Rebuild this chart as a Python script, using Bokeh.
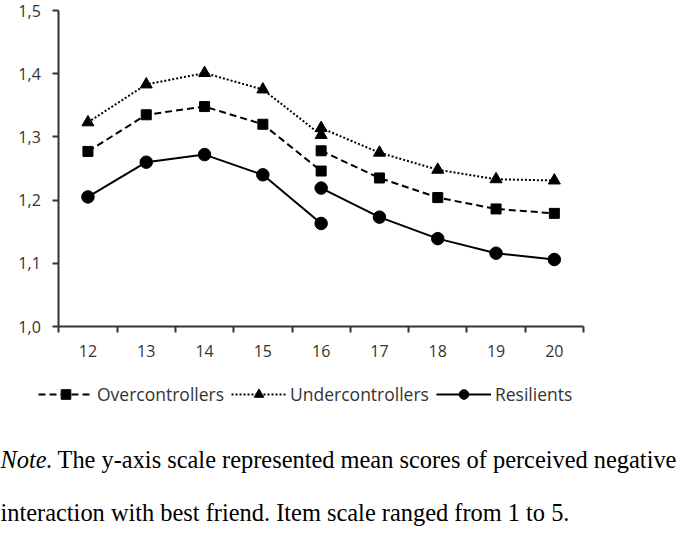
from bokeh.plotting import figure
from bokeh.models import (FixedTicker, CustomJSTickFormatter, Legend, LegendItem,
                          Label, Range1d, LinearAxis)
from bokeh.embed import file_html
from bokeh.resources import INLINE

# ---------------- data ----------------
ages = [12, 13, 14, 15, 16, 17, 18, 19, 20]
ages_pre = [12, 13, 14, 15, 16]
ages_post = [16, 17, 18, 19, 20]

over_pre = [1.277, 1.335, 1.348, 1.320, 1.246]
over_post = [1.278, 1.235, 1.204, 1.186, 1.179]

under_pre = [1.323, 1.383, 1.401, 1.375, 1.303]
under_post = [1.314, 1.275, 1.248, 1.233, 1.231]

resil_pre = [1.205, 1.260, 1.272, 1.240, 1.163]
resil_post = [1.219, 1.173, 1.139, 1.116, 1.106]

y_ticks = [1.0, 1.1, 1.2, 1.3, 1.4, 1.5]
series_names = ["Overcontrollers", "Undercontrollers", "Resilients"]

note_italic = "Note."
note_line1 = "The y-axis scale represented mean scores of perceived negative"
note_line2 = "interaction with best friend. Item scale ranged from 1 to 5."

# ---------------- layout constants (pixels) ----------------
W, H = 678, 558
PLOT_LEFT, PLOT_RIGHT = 58.3, 583.0      # x of axis start / end
PLOT_TOP, PLOT_BOTTOM = 10.0, 326.0      # y of 1.5 / 1.0
AX = "#333333"
TICK_FONT = "Open Sans"

x_lo, x_hi = ages[0] - 0.5, ages[-1] + 0.5
y_lo, y_hi = y_ticks[0], y_ticks[-1]
px_x = (PLOT_RIGHT - PLOT_LEFT) / (x_hi - x_lo)
px_y = (PLOT_BOTTOM - PLOT_TOP) / (y_hi - y_lo)
x_range = Range1d(x_lo - PLOT_LEFT / px_x, x_hi + (W - PLOT_RIGHT) / px_x)
y_range = Range1d(y_lo - (H - PLOT_BOTTOM) / px_y, y_hi + PLOT_TOP / px_y)

p = figure(width=W, height=H, x_range=x_range, y_range=y_range,
           x_axis_location=None, y_axis_location=None,
           output_backend="svg", toolbar_location=None, min_border=0)
p.outline_line_color = None
p.grid.visible = False
p.background_fill_color = "white"
p.border_fill_color = "white"

# x axis: labels at categories, tick marks at category boundaries
boundaries = [a - 0.5 for a in ages] + [ages[-1] + 0.5]
xaxis = LinearAxis(fixed_location=y_lo, bounds=(x_lo, x_hi),
                   ticker=FixedTicker(ticks=ages, minor_ticks=boundaries),
                   major_tick_out=0, major_tick_in=0,
                   minor_tick_out=6, minor_tick_in=0,
                   minor_tick_line_color=AX, minor_tick_line_width=2,
                   axis_line_color=AX, axis_line_width=2,
                   major_label_standoff=12,
                   major_label_text_font=TICK_FONT,
                   major_label_text_font_size="16px",
                   major_label_text_color=AX)
p.add_layout(xaxis, "below")

yaxis = LinearAxis(fixed_location=x_lo, bounds=(y_lo, y_hi),
                   ticker=FixedTicker(ticks=y_ticks, minor_ticks=[]),
                   formatter=CustomJSTickFormatter(
                       code="return tick.toFixed(1).replace('.', ',');"),
                   major_tick_out=6, major_tick_in=0,
                   major_tick_line_color=AX, major_tick_line_width=2,
                   axis_line_color=AX, axis_line_width=2,
                   major_label_standoff=12,
                   major_label_text_font=TICK_FONT,
                   major_label_text_font_size="16px",
                   major_label_text_color=AX)
p.add_layout(yaxis, "left")

# ---------------- series ----------------
series = [
    (series_names[0], over_pre, over_post, "7 4", "square", 10),
    (series_names[1], under_pre, under_post, "2 2", "triangle", 12),
    (series_names[2], resil_pre, resil_post, "solid", "circle", 12.5),
]
items = []
for name, pre, post, dash, marker, size in series:
    l1 = p.line(ages_pre, pre, line_color="black", line_width=2, line_dash=dash)
    p.line(ages_post, post, line_color="black", line_width=2, line_dash=dash)
    s = p.scatter(ages_pre + ages_post, pre + post, marker=marker, size=size,
                  fill_color="black", line_color="black")
    items.append(LegendItem(label=name, renderers=[l1, s]))

# legend: location = bottom-left corner, in px from the canvas bottom-left
legend = Legend(items=items, orientation="horizontal", location=(38, 152),
                glyph_width=55, glyph_height=24, label_standoff=4, spacing=7,
                padding=0, margin=0,
                label_text_font=TICK_FONT, label_text_font_size="17.5px",
                label_text_color=AX,
                border_line_alpha=0, background_fill_alpha=0)
p.add_layout(legend, "center")

# ---------------- note ----------------
NOTE_FONT = "Liberation Serif"
NOTE_SIZE = "24.4px"
p.add_layout(Label(x=0, y=86, x_units="screen", y_units="screen",
                   text=note_italic, text_font=NOTE_FONT, text_font_style="italic",
                   text_font_size=NOTE_SIZE, text_color="black"))
p.add_layout(Label(x=57, y=86, x_units="screen", y_units="screen",
                   text=note_line1, text_font=NOTE_FONT,
                   text_font_size=NOTE_SIZE, text_color="black"))
p.add_layout(Label(x=0, y=33, x_units="screen", y_units="screen",
                   text=note_line2, text_font=NOTE_FONT,
                   text_font_size=NOTE_SIZE, text_color="black"))

open("out.html", "w").write(file_html(p, INLINE))
